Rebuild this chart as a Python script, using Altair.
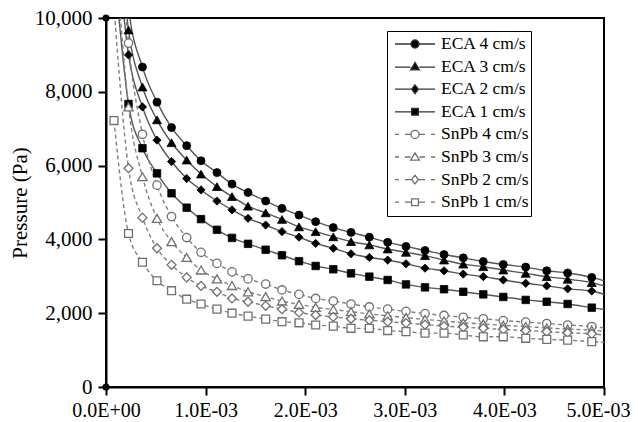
import altair as alt
import pandas as pd

# ---------------- data ----------------
# x positions of the data points, in units of 1E-03
x_points = [0.080, 0.226, 0.366, 0.512, 0.658, 0.810, 0.954, 1.114, 1.265, 1.426,
            1.603, 1.767, 1.938, 2.105, 2.282, 2.460, 2.644, 2.828, 3.012, 3.203,
            3.394, 3.587, 3.788, 3.989, 4.214, 4.425, 4.635, 4.877]
x_line_end = 5.0  # the curves run on to the right edge of the plot

series_names = ["ECA 4 cm/s", "ECA 3 cm/s", "ECA 2 cm/s", "ECA 1 cm/s",
                "SnPb 4 cm/s", "SnPb 3 cm/s", "SnPb 2 cm/s", "SnPb 1 cm/s"]

# pressure values (Pa); values above 10,000 are off the top of the axis
eca4 = [16000, 10300, 8670, 7720, 7030, 6540, 6130, 5810, 5500, 5270,
        5040, 4840, 4660, 4480, 4320, 4190, 4060, 3920, 3810, 3700,
        3590, 3500, 3400, 3320, 3250, 3150, 3090, 2970]
eca3 = [14000, 9675, 8130, 7240, 6620, 6150, 5770, 5430, 5160, 4900,
        4720, 4540, 4340, 4210, 4070, 3940, 3850, 3740, 3650, 3560,
        3440, 3330, 3260, 3170, 3080, 2990, 2920, 2830]
eca2 = [13000, 9000, 7590, 6690, 6110, 5650, 5340, 5040, 4800, 4570,
        4390, 4210, 4060, 3890, 3760, 3610, 3510, 3440, 3340, 3220,
        3150, 3060, 2990, 2900, 2810, 2740, 2660, 2600]
eca1 = [11500, 7670, 6470, 5790, 5250, 4860, 4550, 4260, 4040, 3880,
        3720, 3570, 3410, 3280, 3190, 3080, 2990, 2900, 2780, 2700,
        2650, 2580, 2510, 2440, 2360, 2310, 2250, 2150]
snpb4 = [15000, 9320, 6850, 5470, 4620, 4050, 3650, 3350, 3120, 2930,
         2790, 2630, 2510, 2400, 2330, 2250, 2170, 2110, 2050, 1990,
         1940, 1890, 1850, 1800, 1760, 1720, 1680, 1640]
snpb3 = [12500, 7590, 5700, 4570, 3940, 3510, 3170, 2930, 2750, 2580,
         2450, 2330, 2240, 2160, 2100, 2040, 1980, 1930, 1880, 1830,
         1790, 1740, 1710, 1670, 1640, 1600, 1570, 1540]
snpb2 = [10300, 5930, 4590, 3760, 3310, 2970, 2740, 2580, 2400, 2310,
         2200, 2110, 2020, 1950, 1900, 1850, 1810, 1770, 1730, 1690,
         1650, 1620, 1590, 1560, 1530, 1500, 1470, 1440]
snpb1 = [7220, 4160, 3380, 2880, 2610, 2380, 2250, 2110, 2000, 1920,
         1840, 1770, 1740, 1680, 1650, 1590, 1590, 1530, 1500, 1460,
         1460, 1410, 1360, 1360, 1320, 1290, 1270, 1230]
# value of each curve where it meets the right edge
line_end_values = [2880, 2740, 2510, 2100, 1600, 1510, 1410, 1210]

# two markers sitting on the axis corners at x = 0
corner_x = [0, 0]
corner_y = [0, 10000]

series_values = [eca4, eca3, eca2, eca1, snpb4, snpb3, snpb2, snpb1]
y_ticks = [0, 2000, 4000, 6000, 8000, 10000]
x_ticks = [0, 0.001, 0.002, 0.003, 0.004, 0.005]

# ---------------- styles ----------------
marker_shapes = ["circle", "triangle-up", "diamond", "square",
                 "circle", "triangle-up", "diamond", "square"]
marker_sizes = [64, 81, 68, 56, 70, 85, 80, 62]
eca_color = "#000000"
snpb_color = "#707070"

legend_paths = [
    "M-1,0H-0.2M0.2,0H1M-0.2,0A0.2,0.2,0,1,1,0.2,0A0.2,0.2,0,1,1,-0.2,0Z",
    "M-1,0.03H-0.22M0.22,0.03H1M0,-0.21L0.22,0.16L-0.22,0.16Z",
    "M-1,0H-0.17M0.17,0H1M0,-0.22L0.17,0L0,0.22L-0.17,0Z",
    "M-1,0H-0.17M0.17,0H1M-0.17,-0.17H0.17V0.17H-0.17Z",
    "M-1,0H-0.8M-0.5,0H-0.2M0.2,0H0.5M0.8,0H1M-0.2,0A0.2,0.2,0,1,1,0.2,0A0.2,0.2,0,1,1,-0.2,0Z",
    "M-1,0H-0.8M-0.5,0H-0.22M0.22,0H0.5M0.8,0H1M0,-0.21L0.22,0.16L-0.22,0.16Z",
    "M-1,0H-0.8M-0.5,0H-0.17M0.17,0H0.5M0.8,0H1M0,-0.22L0.17,0L0,0.22L-0.17,0Z",
    "M-1,0H-0.8M-0.5,0H-0.17M0.17,0H0.5M0.8,0H1M-0.17,-0.17H0.17V0.17H-0.17Z",
]
legend_fills = ["#000000"] * 4 + ["#ffffff"] * 4
legend_strokes = ["#333333"] * 4 + [snpb_color] * 4

# ---------------- tables ----------------
line_rows = []
point_rows = []
for name, vals, end in zip(series_names, series_values, line_end_values):
    group = "ECA" if name.startswith("ECA") else "SnPb"
    for xv, yv in zip(x_points, vals):
        line_rows.append({"series": name, "group": group, "x": xv * 1e-3, "y": yv})
        if yv <= 10000:
            point_rows.append({"series": name, "group": group, "x": xv * 1e-3, "y": yv})
    line_rows.append({"series": name, "group": group, "x": x_line_end * 1e-3, "y": end})
lines_df = pd.DataFrame(line_rows)
points_df = pd.DataFrame(point_rows)
corner_df = pd.DataFrame({"x": corner_x, "y": corner_y})

label_expr = ("datum.value == 0 ? '0.0E+00' : "
              "format(datum.value / pow(10, floor(log(datum.value)/LN10 + 0.000000001)), '.1f')"
              " + 'E-' + format(-floor(log(datum.value)/LN10 + 0.000000001), '02d')")

x_enc = alt.X("x:Q", scale=alt.Scale(domain=[0, 0.005], nice=False),
              axis=alt.Axis(values=x_ticks, labelExpr=label_expr, title=None,
                            tickSize=8, labelPadding=5, labelOverlap=False,
                            labelFlush=False, labelBound=False, labelFontSize=20,
                            labelOffset={"condition": {"test": "datum.value > 0.0049",
                                                       "value": -6},
                                         "value": 0}))
y_enc = alt.Y("y:Q", scale=alt.Scale(domain=[0, 10000], nice=False),
              axis=alt.Axis(values=y_ticks, format=",d", title="Pressure (Pa)",
                            tickSize=8, labelPadding=6, titlePadding=4,
                            labelOverlap=False, labelFlush=False))

base_lines = alt.Chart(lines_df).encode(x=x_enc, y=y_enc, detail="series:N", order="x:Q")
eca_lines = base_lines.transform_filter(alt.datum.group == "ECA").mark_line(
    color="#555555", strokeWidth=1.4, interpolate="monotone", clip=True)
snpb_lines = base_lines.transform_filter(alt.datum.group == "SnPb").mark_line(
    color="#808080", strokeWidth=1.4, strokeDash=[4, 3], interpolate="monotone", clip=True)

point_layers = []
for i, name in enumerate(series_names):
    is_eca = name.startswith("ECA")
    mark = alt.Chart(points_df).transform_filter(alt.datum.series == name).mark_point(
        shape=marker_shapes[i], size=marker_sizes[i], filled=True,
        fill=eca_color if is_eca else "#ffffff",
        stroke=eca_color if is_eca else snpb_color,
        strokeWidth=0.8 if is_eca else 1.3, opacity=1, clip=True)
    point_layers.append(mark.encode(x="x:Q", y="y:Q"))

corner_pts = alt.Chart(corner_df).mark_point(
    shape="circle", size=50, filled=True, fill="#000000", opacity=1).encode(x="x:Q", y="y:Q")

legend_def = alt.Legend(title=None, orient="none", legendX=281, legendY=13,
                        symbolSize=1600, symbolStrokeWidth=1.3,
                        labelFont="Liberation Serif", labelFontSize=17.5,
                        labelColor="#000000", labelLimit=300,
                        labelExpr="datum.label + ' '",
                        strokeColor="#000000", fillColor="#ffffff", padding=2,
                        clipHeight=22, rowPadding=0.6, symbolOffset=5, labelOffset=5)

legend_layer = alt.Chart(points_df).transform_filter("false").mark_point(
    opacity=1, filled=True, strokeWidth=1.3).encode(
    shape=alt.Shape("series:N", scale=alt.Scale(domain=series_names, range=legend_paths),
                    legend=legend_def),
    fill=alt.Fill("series:N", scale=alt.Scale(domain=series_names, range=legend_fills),
                  legend=legend_def),
    stroke=alt.Stroke("series:N", scale=alt.Scale(domain=series_names, range=legend_strokes),
                      legend=legend_def),
)

chart = alt.layer(eca_lines, snpb_lines, *point_layers, corner_pts, legend_layer).properties(
    width=498, height=369,
    autosize=alt.AutoSizeParams(type="none"),
    padding={"left": 98, "top": 10, "right": 26, "bottom": 35},
    background="#ffffff",
).configure_view(stroke="#000000", strokeWidth=2).configure_axis(
    domainColor="#000000", domainWidth=2, tickColor="#000000", tickWidth=2,
    labelFont="Liberation Serif", labelFontSize=21, labelColor="#000000",
    titleFont="Liberation Serif", titleFontSize=21, titleColor="#000000",
    titleFontWeight="normal", grid=False,
)

chart.save("out.html", embed_options={"renderer": "svg", "actions": False})
